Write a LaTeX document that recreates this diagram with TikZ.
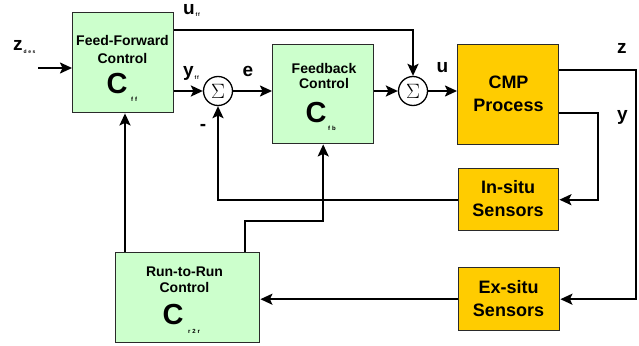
\documentclass[tikz,border=0pt]{standalone}
\usepackage{fontspec}
\setmainfont{Liberation Sans}
\usetikzlibrary{arrows.meta,calc}
\definecolor{ctlgreen}{HTML}{CCFFCC}
\definecolor{procorange}{HTML}{FFCC00}
\definecolor{edgegray}{HTML}{2A2A2A}
\begin{document}
\begin{tikzpicture}[x=1pt,y=-1pt,
  blk/.style={draw=edgegray,line width=1.4pt,inner sep=0pt,anchor=north west},
  ctlbox/.style={blk,fill=ctlgreen},
  procbox/.style={blk,fill=procorange},
  ctltxt/.style={inner sep=0pt,font=\bfseries\fontsize{14}{14}\selectfont},
  proctxt/.style={inner sep=0pt,font=\bfseries\fontsize{18}{18}\selectfont},
  bigc/.style={inner sep=0pt,font=\bfseries\fontsize{29}{29}\selectfont},
  subtxt/.style={inner sep=0pt,font=\bfseries\fontsize{6}{6}\selectfont},
  sig/.style={circle,draw=black,line width=1.3pt,fill=white,minimum size=29pt,inner sep=0pt,font=\fontsize{20}{20}\selectfont},
  sigl/.style={inner sep=0pt,anchor=base west,font=\bfseries\fontsize{19}{19}\selectfont},
  arr/.style={line width=2pt,line join=miter,-{Stealth[length=12pt,width=11pt,inset=2.5pt]}}
]
\useasboundingbox (0,0) rectangle (639,345);

% blocks
\node[ctlbox,minimum width=101pt,minimum height=100pt] (ff) at (72,12) {};
\node[ctlbox,minimum width=101pt,minimum height=99pt] (fb) at (272,44) {};
\node[ctlbox,minimum width=144pt,minimum height=90pt] (rr) at (115,252) {};
\node[procbox,minimum width=101pt,minimum height=100pt] (cmp) at (457,44) {};
\node[procbox,minimum width=100pt,minimum height=62pt] (ins) at (458,168) {};
\node[procbox,minimum width=101pt,minimum height=63pt] (exs) at (458,267) {};

% block texts
\node[ctltxt] (fft1) at (122.5,40.5) {Feed-Forward};
\node[ctltxt] (fft2) at (122.5,58) {Control};
\node[bigc] (ffc) at (117,84) {C};
\node[subtxt] (ffs) at (134,99) {f\,\,f};

\node[ctltxt] (fbt1) at (324,68) {Feedback};
\node[ctltxt] (fbt2) at (324,83) {Control};
\node[bigc] (fbc) at (316,113) {C};
\node[subtxt] (fbs) at (332,128) {f\,\,b};

\node[ctltxt] (rrt1) at (184.5,271.5) {Run-to-Run};
\node[ctltxt] (rrt2) at (184.5,287) {Control};
\node[bigc] (rrc) at (173,315) {C};
\node[subtxt] (rrs) at (194,331) {r\,\,2\,\,r};

\node[proctxt] (cmpt1) at (508.5,82.5) {CMP};
\node[proctxt] (cmpt2) at (508.5,105) {Process};
\node[proctxt] (inst1) at (508,187) {In-situ};
\node[proctxt] (inst2) at (508,210) {Sensors};
\node[proctxt] (exst1) at (508.5,287.5) {Ex-situ};
\node[proctxt] (exst2) at (508.5,310) {Sensors};

% summing junctions
\node[sig] (s1) at (218,91) {$\Sigma$};
\node[sig] (s2) at (413,91) {$\Sigma$};

% signal labels
\node[sigl] (lzd) at (13,50) {z\raisebox{-3pt}{\fontsize{5}{5}\selectfont\,d\,\,e\,\,s}};
\node[sigl] (luf) at (183,15) {u\raisebox{-2pt}{\fontsize{5}{5}\selectfont\,f\,f}};
\node[sigl] (lyf) at (183,77) {y\raisebox{-2pt}{\fontsize{5}{5}\selectfont\,f\,f}};
\node[sigl] (le) at (242.5,76.5) {e};
\node[sigl] (lu) at (436.5,72) {u};
\node[sigl] (lz) at (617,54) {z};
\node[sigl] (ly) at (617,120) {y};
\node[inner sep=0pt,font=\bfseries\fontsize{19}{19}\selectfont] (lminus) at (203,127) {-};

% connectors
\coordinate (zin) at (38,68);
\draw[arr] (zin) -- (zin -| ff.west);
\draw[arr] (ff.east |- 0,30) -| (s2.north);
\draw[arr] (ff.east |- s1) -- (s1.west);
\draw[arr] (s1.east) -- (fb.west |- s1);
\draw[arr] (fb.east |- s2) -- (s2.west);
\draw[arr] (s2.east) -- (cmp.west |- s2);
\draw[arr] (cmp.east |- 0,70) -- (636,70) |- (exs.east);
\draw[arr] (cmp.east |- 0,113) -- (598,113) |- (ins.east);
\draw[arr] (ins.west) -| (s1.south);
\draw[arr] (exs.west) -- (rr.east |- exs.west);
\draw[arr] (rr.north -| 125,0) -- (ff.south -| 125,0);
\draw[arr] (rr.north -| 245,0) |- (fb.south |- 0,221) -- (fb.south);
\end{tikzpicture}
\end{document}
